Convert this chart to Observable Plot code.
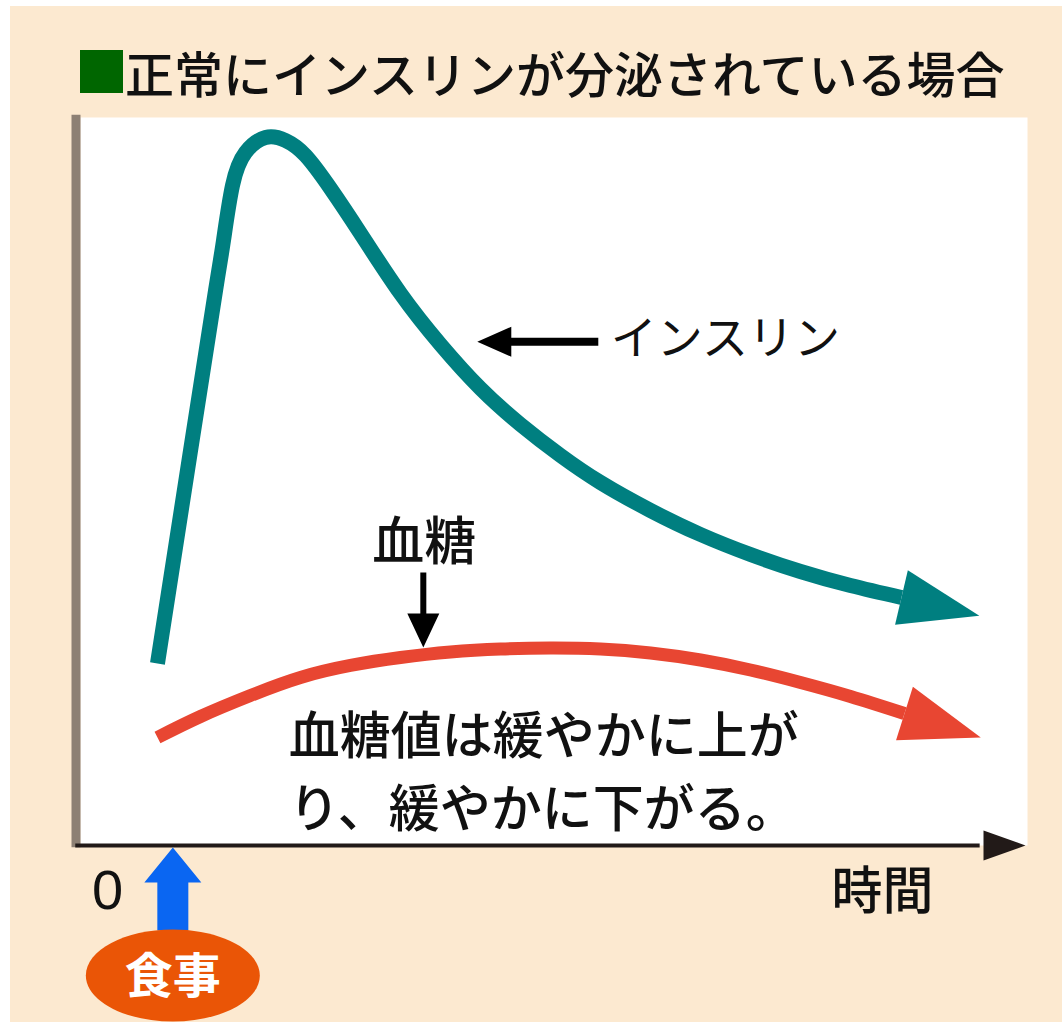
<!DOCTYPE html>
<html>
<head>
<meta charset="utf-8">
<script src="https://cdn.jsdelivr.net/npm/d3@7"></script>
<script src="https://cdn.jsdelivr.net/npm/@observablehq/plot@0.6"></script>
<style>
  html, body { margin: 0; padding: 0; background: #ffffff; }
  #card { position: absolute; left: 10px; top: 6px; width: 1052px; height: 1016px; background: #fce9d0; overflow: hidden; }
  #title { position: relative; height: 104px; }
  #title .sq { position: absolute; left: 70px; top: 44px; width: 43px; height: 43px; background: #006600; }
  #title .tx { position: absolute; left: 115px; top: 41px; font-family: "Noto Sans CJK JP"; font-size: 49px; line-height: 1; font-weight: 500; color: #111; white-space: nowrap; }
  #chart svg { display: block; }
</style>
</head>
<body>
<div id="card">
  <div id="title"><div class="sq"></div><div class="tx"></div></div>
  <div id="chart"></div>
</div>
<script>
// ---- data (arbitrary units: time 0–100, level 0–100) ----
const titleText = "正常にインスリンが分泌されている場合";
const insulinTime  = [8.13, 11.62, 14.26, 15.10, 16.05, 17.42, 19.54, 21.65, 23.76, 26.40, 29.57, 33.79, 38.01, 42.24, 46.46, 50.69, 54.91, 60.19, 65.47, 70.75, 76.03, 81.31, 86.69];
const insulinLevel = [25.0, 54.26, 76.24, 83.10, 90.66, 95.19, 97.25, 96.84, 94.78, 90.25, 84.07, 75.82, 68.82, 62.77, 57.83, 53.57, 49.86, 46.02, 42.72, 39.97, 37.64, 35.71, 34.07];
const glucoseTime  = [8.13, 12.67, 17.95, 23.23, 28.51, 33.79, 39.07, 44.35, 49.63, 54.91, 60.19, 65.47, 70.75, 76.03, 81.31, 87.01];
const glucoseLevel = [14.84, 17.72, 20.60, 23.08, 24.73, 25.82, 26.58, 26.99, 27.13, 26.99, 26.44, 25.48, 24.11, 22.39, 20.47, 18.13];
const seriesNames  = ["インスリン", "血糖"];
const seriesColors = ["#007f80", "#e84632"];
const mealTime = 9.75;
const mealLabel = "食事";
const zeroLabel = "0";
const timeLabel = "時間";
const glucoseNote = "血糖値は緩やかに上が\nり、緩やかに下がる。";
const insulinPointer = {x: 41.9, y: 69.2};   // tip of the "← インスリン" pointer
const insulinLabelPos = {x: 56.0, y: 69.5};
const glucosePointer = {x: 36.2, y: 27.2};   // tip of the down arrow under "血糖"
const glucoseLabelPos = {x: 36.3, y: 41.5};
const notePos = {x: 22.0, y: 10.8};
const zeroPos = {x: 2.85};
const timePos = {x: 84.7};

// ---- layout ----
const W = 1052, H = 912;
const M = {top: 7, right: 35, bottom: 177, left: 70};
const xDomain = [0, 100], yDomain = [0, 100];
const kx = (W - M.left - M.right) / (xDomain[1] - xDomain[0]);
const ky = (H - M.top - M.bottom) / (yDomain[1] - yDomain[0]);
const FONT = "Noto Sans CJK JP";

document.querySelector("#title .tx").textContent = titleText;

const insulin = insulinTime.map((t, i) => ({x: t, y: insulinLevel[i], s: seriesNames[0]}));
const glucose = glucoseTime.map((t, i) => ({x: t, y: glucoseLevel[i], s: seriesNames[1]}));

function heading(series) {
  const a = series[series.length - 2], b = series[series.length - 1];
  return Math.atan2((b.x - a.x) * kx, (b.y - a.y) * ky) * 180 / Math.PI;
}
const heads = [
  {...insulin[insulin.length - 1], r: heading(insulin), c: seriesColors[0]},
  {...glucose[glucose.length - 1], r: heading(glucose), c: seriesColors[1]}
];

function arrowShape(shaftW, headW, headL) {
  return {
    draw(ctx, l) {
      const s = shaftW / 2, h = headW / 2, b = -(l - headL);
      if (l > headL) { ctx.moveTo(-s, 0); ctx.lineTo(-s, b); ctx.lineTo(-h, b); }
      else ctx.moveTo(-h, b);
      ctx.lineTo(0, -l);
      ctx.lineTo(h, b);
      if (l > headL) { ctx.lineTo(s, b); ctx.lineTo(s, 0); }
      ctx.closePath();
    }
  };
}
const ellipseSymbol = {
  draw(ctx) {
    const rx = 87, ry = 46, k = 0.5523;
    ctx.moveTo(-rx, 0);
    ctx.bezierCurveTo(-rx, -ry * k, -rx * k, -ry, 0, -ry);
    ctx.bezierCurveTo(rx * k, -ry, rx, -ry * k, rx, 0);
    ctx.bezierCurveTo(rx, ry * k, rx * k, ry, 0, ry);
    ctx.bezierCurveTo(-rx * k, ry, -rx, ry * k, -rx, 0);
    ctx.closePath();
  }
};

const chart = Plot.plot({
  width: W, height: H,
  marginTop: M.top, marginRight: M.right, marginBottom: M.bottom, marginLeft: M.left,
  x: {domain: xDomain, axis: null},
  y: {domain: yDomain, axis: null},
  style: {background: "none", overflow: "visible", fontFamily: FONT},
  marks: [
    Plot.frame({fill: "white", stroke: "none"}),
    // left axis (grey bar)
    Plot.ruleX([0], {y1: -0.3, y2: 100.3, stroke: "#8d8074", strokeWidth: 9, dx: -4.5}),
    // bottom time axis with arrow
    Plot.ruleY([0], {x1: -0.5, x2: 95, stroke: "#221a18", strokeWidth: 4}),
    Plot.vector([{x: 100, y: 0}], {x: "x", y: "y", rotate: 90, length: 42, anchor: "end", dx: -2,
      shape: arrowShape(0, 30, 42), fill: "#221a18", stroke: "none"}),
    // curves
    Plot.line(glucose, {x: "x", y: "y", curve: "natural", stroke: seriesColors[1], strokeWidth: 13, strokeLinecap: "butt"}),
    Plot.line(insulin, {x: "x", y: "y", curve: "natural", stroke: seriesColors[0], strokeWidth: 15, strokeLinecap: "butt", strokeLinejoin: "round"}),
    Plot.vector(heads, {x: "x", y: "y", rotate: "r", length: 80, anchor: "start",
      shape: arrowShape(0, 56, 80), fill: "c", stroke: "none"}),
    // insulin pointer + label
    Plot.vector([insulinPointer], {x: "x", y: "y", rotate: -90, length: 121, anchor: "end",
      shape: arrowShape(8, 30, 34), fill: "#000", stroke: "none"}),
    Plot.text([insulinLabelPos], {x: "x", y: "y", text: () => seriesNames[0], textAnchor: "start",
      fontSize: 46, fill: "#111", fontFamily: FONT}),
    // glucose pointer + label
    Plot.vector([glucosePointer], {x: "x", y: "y", rotate: 180, length: 75, anchor: "end",
      shape: arrowShape(6, 32, 34), fill: "#000", stroke: "none"}),
    Plot.text([glucoseLabelPos], {x: "x", y: "y", text: () => seriesNames[1],
      fontSize: 52, fontWeight: 500, fill: "#111", fontFamily: FONT}),
    // note
    Plot.text([notePos], {x: "x", y: "y", text: () => glucoseNote, textAnchor: "start",
      lineHeight: 1.43, fontSize: 51, fontWeight: 500, fill: "#111", fontFamily: FONT}),
    // 0 and time label
    Plot.text([zeroPos], {x: "x", y: () => 0, text: () => zeroLabel, dy: 46,
      fontSize: 56, fill: "#111", fontFamily: "Liberation Sans"}),
    Plot.text([timePos], {x: "x", y: () => 0, text: () => timeLabel, dy: 47,
      fontSize: 51, fontWeight: 500, fill: "#111", fontFamily: FONT}),
    // meal arrow + badge
    Plot.vector([{x: mealTime}], {x: "x", y: () => 0, rotate: 0, length: 83, anchor: "end", dy: 2,
      shape: arrowShape(31, 57, 35), fill: "#0a66f2", stroke: "none"}),
    Plot.dot([{x: mealTime}], {x: "x", y: () => 0, dy: 130, symbol: ellipseSymbol, fill: "#ea5506", stroke: "none"}),
    Plot.text([{x: mealTime}], {x: "x", y: () => 0, text: () => mealLabel, dy: 132,
      fontSize: 48, fontWeight: "bold", fill: "white", fontFamily: FONT})
  ]
});
document.getElementById("chart").appendChild(chart);
</script>
</body>
</html>
